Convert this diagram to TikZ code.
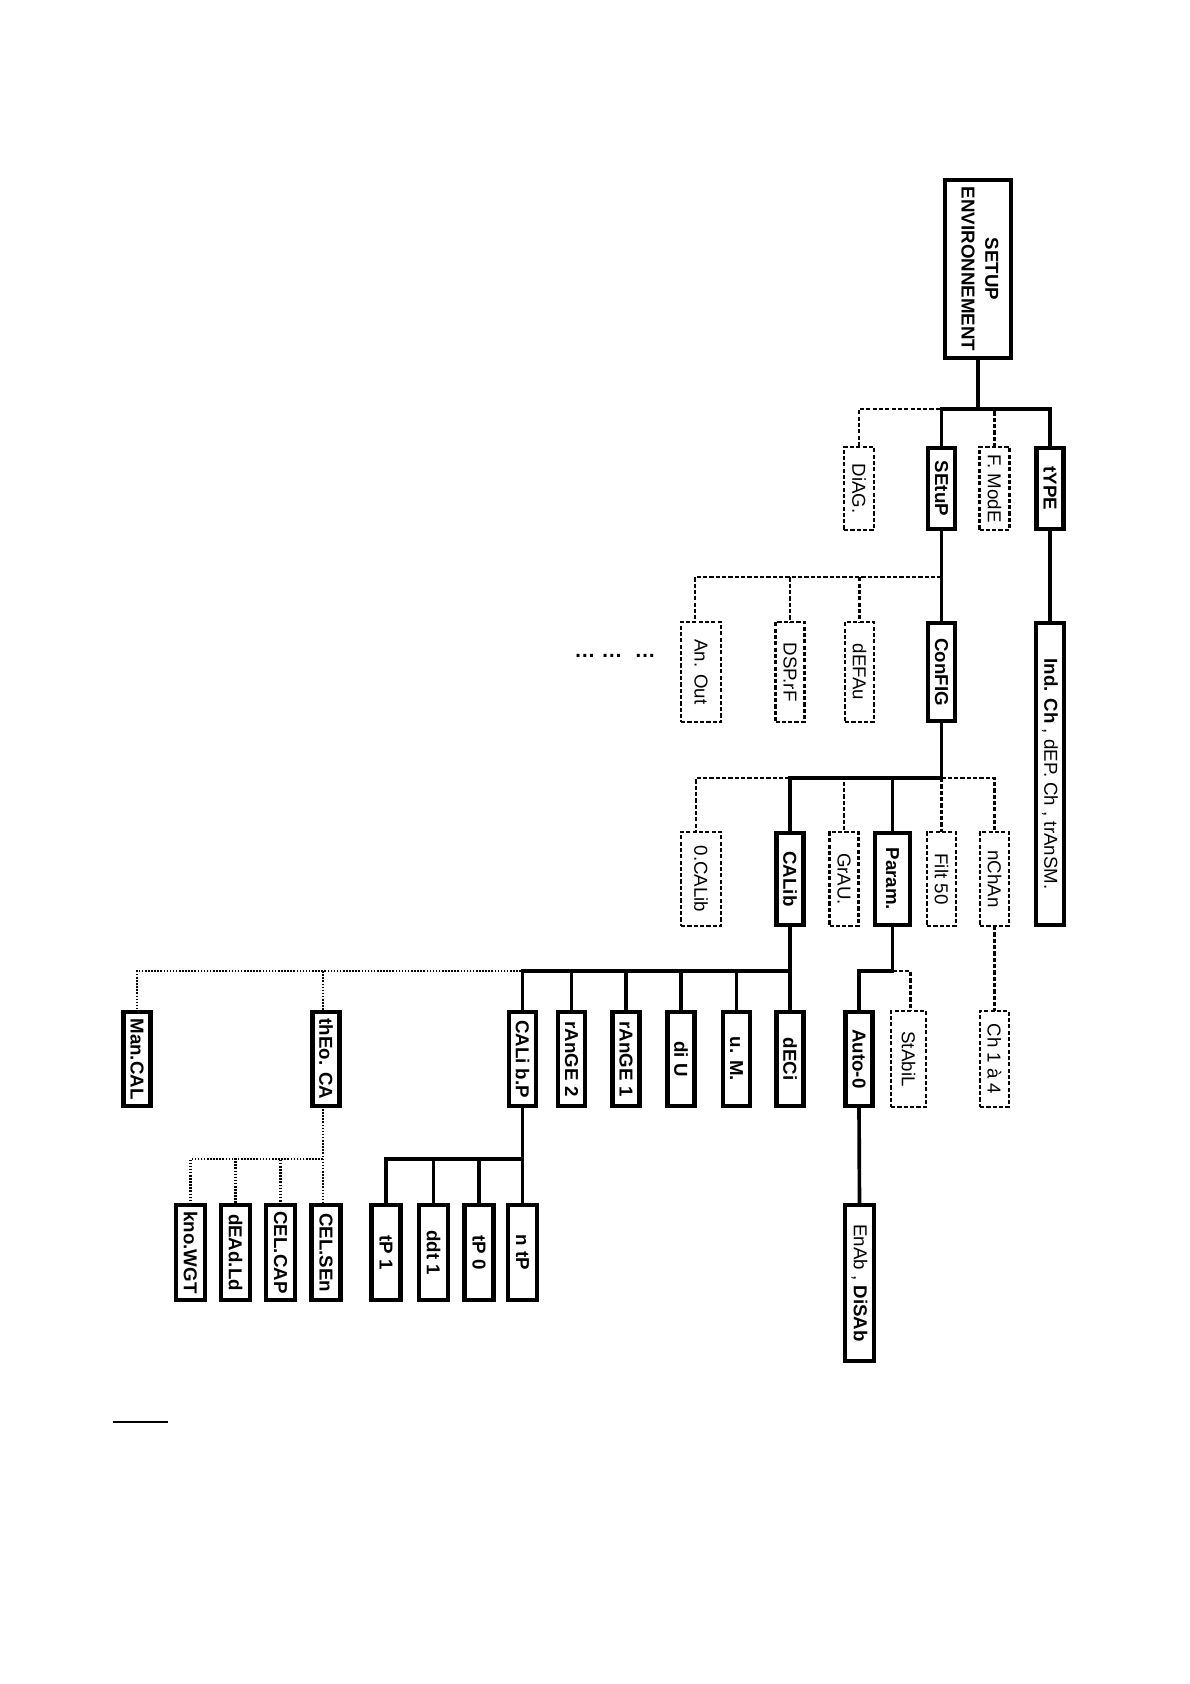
\documentclass[tikz,border=0pt]{standalone}
\usepackage{fontspec}
\setmainfont{Liberation Sans}
\usepackage{graphicx}
\newlength\px
\setlength\px{0.025cm}
\newcommand\rtxt[1]{\rotatebox{-90}{#1}}
\begin{document}
\begin{tikzpicture}[x=0.025cm,y=-0.025cm,
  box/.style={inner sep=0pt, outer sep=0pt, font=\fontsize{13.3}{16}\selectfont},
  sbox/.style={box, draw, line width=3pt, font=\fontsize{13.3}{16}\selectfont\bfseries},
  dbox/.style={box, draw, line width=1.6pt, dash pattern=on 3pt off 1.5pt},
  sline/.style={line width=2.6pt},
  dline/.style={line width=1.6pt, dash pattern=on 3pt off 1.5pt},
  oline/.style={line width=1.5pt, dash pattern=on 1.1pt off 1.1pt},
  l1s/.style={minimum width=27\px, minimum height=81\px},
  l1d/.style={minimum width=30\px, minimum height=83\px},
  l2s/.style={minimum width=27\px, minimum height=98\px},
  l2d/.style={minimum width=29\px, minimum height=100\px},
  l3s/.style={minimum width=27\px, minimum height=92\px},
  l3d/.style={minimum width=29\px, minimum height=94\px},
  l4s/.style={minimum width=27\px, minimum height=94\px},
  l4d/.style={minimum width=29\px, minimum height=96\px},
  l5s/.style={minimum width=29\px, minimum height=95\px},
]
\useasboundingbox (0,0) rectangle (1190,1684);

% bar levels
\coordinate (b1) at (0,409);
\coordinate (b2) at (0,577);
\coordinate (b3) at (0,778);
\coordinate (b4) at (0,971);
\coordinate (b5) at (0,1159);

% root
\node[sbox, minimum width=66\px, minimum height=178\px] (root) at (978,269)
  {\rtxt{\begin{tabular}{@{}c@{}}SETUP\\[1pt]ENVIRONNEMENT\end{tabular}}};

% level 1
\node[dbox, l1d] (diag)  at (859,488.5)   {\rtxt{DiAG.}};
\node[sbox, l1s] (setup) at (941.5,488.5) {\rtxt{SEtuP}};
\node[dbox, l1d] (fmode) at (994.5,488.5) {\rtxt{F. ModE}};
\node[sbox, l1s] (typ)   at (1050,488.5)  {\rtxt{tYPE}};

% level 2
\node[dbox, l2d, minimum width=40\px] (aout) at (701,672) {\rtxt{An. Out}};
\node[dbox, l2d] (dsp)    at (790,672)   {\rtxt{DSP.rF}};
\node[dbox, l2d] (defau)  at (859.5,672) {\rtxt{dEFAu}};
\node[sbox, l2s] (config) at (941.5,672) {\rtxt{ConFIG}};
\node[sbox, minimum width=28\px, minimum height=302\px, font=\fontsize{13.3}{16}\selectfont] (indch) at (1050,774)
  {\rtxt{\textbf{Ind. Ch} , dEP. Ch , trAnSM.}};
\node[box, font=\fontsize{15}{16}\selectfont\bfseries] (dots) at (615,656) {…\hspace{6\px}…\hspace{12\px}…};

% level 3
\node[dbox, l3d, minimum width=40\px] (ocalib) at (701,879) {\rtxt{0.CALib}};
\node[sbox, l3s] (calib) at (790,879)   {\rtxt{CALib}};
\node[dbox, l3d] (grau)  at (844,879)   {\rtxt{GrAU.}};
\node[sbox, l3s, minimum width=35\px] (param) at (892.5,879) {\rtxt{Param.}};
\node[dbox, l3d] (filt)  at (941.5,879) {\rtxt{Filt 50}};
\node[dbox, l3d] (nchan) at (994.5,879) {\rtxt{nChAn}};

% level 4
\node[sbox, l4s] (mancal) at (137,1059)   {\rtxt{Man.CAL}};
\node[sbox, l4s] (theo)   at (326,1059)   {\rtxt{thEo. CA}};
\node[sbox, l4s] (calibp) at (522.5,1059) {\rtxt{CALi b.P}};
\node[sbox, l4s] (range2) at (571.5,1059) {\rtxt{rAnGE 2}};
\node[sbox, l4s] (range1) at (626,1059)   {\rtxt{rAnGE 1}};
\node[sbox, l4s] (diu)    at (681,1059)   {\rtxt{di U}};
\node[sbox, l4s] (um)     at (736.5,1059) {\rtxt{u. M.}};
\node[sbox, l4s] (deci)   at (790,1059)   {\rtxt{dECi}};
\node[sbox, l4s] (auto)   at (859,1059)   {\rtxt{Auto-0}};
\node[dbox, l4d, minimum width=35\px] (stabil) at (908.5,1059) {\rtxt{StAbiL}};
\node[dbox, l4d] (ch)     at (994.5,1059) {\rtxt{Ch 1 à 4}};

% level 5
\node[sbox, l5s] (knowgt) at (190.5,1252.5) {\rtxt{kno.WGT}};
\node[sbox, l5s] (dead)   at (235.5,1252.5) {\rtxt{dEAd.Ld}};
\node[sbox, l5s] (celcap) at (280.5,1252.5) {\rtxt{CEL.CAP}};
\node[sbox, l5s] (celsen) at (326,1252.5)   {\rtxt{CEL.SEn}};
\node[sbox, l5s] (tp1)    at (386,1252.5)   {\rtxt{tP 1}};
\node[sbox, l5s] (ddt)    at (433.5,1252.5) {\rtxt{ddt 1}};
\node[sbox, l5s] (tp0)    at (479,1252.5)   {\rtxt{tP 0}};
\node[sbox, l5s] (ntp)    at (522.5,1252.5) {\rtxt{n tP}};
\node[sbox, minimum width=29\px, minimum height=156\px, font=\fontsize{13.3}{16}\selectfont] (enab) at (859.5,1283)
  {\rtxt{EnAb , \textbf{DiSAb}}};

% dashed / dotted connectors
\draw[dline] (root.south |- b1) -| (fmode.north);
\draw[dline] (root.south |- b1) -| (diag.north);
\draw[dline] (setup.south |- b2) -| (defau.north);
\draw[dline] (setup.south |- b2) -| (dsp.north);
\draw[dline] (setup.south |- b2) -| ([xshift=-6\px]aout.north);
\draw[dline] (config.south |- b3) -| (filt.north);
\draw[dline] (config.south |- b3) -| (nchan.north);
\draw[dline] (config.south |- b3) -| (grau.north);
\draw[dline] (config.south |- b3) -| ([xshift=-5\px]ocalib.north);
\draw[dline] (param.south |- b4) -| ([xshift=2\px]stabil.north);
\draw[dline] (nchan.south) -- (ch.north);
\draw[oline] (calib.south |- b4) -| ([xshift=-3\px]theo.north);
\draw[oline] (calib.south |- b4) -| (mancal.north);
\draw[oline] ([xshift=-3\px]theo.south) -- ([xshift=-3\px]celsen.north);
\draw[oline] ([xshift=-3\px]theo.south |- b5) -| (celcap.north);
\draw[oline] ([xshift=-3\px]theo.south |- b5) -| (dead.north);
\draw[oline] ([xshift=-3\px]theo.south |- b5) -| (knowgt.north);

% solid connectors
\draw[sline] (root.south) -- (root.south |- b1) -| (typ.north);
\draw[sline] (root.south |- b1) -| (setup.north);
\draw[sline] (typ.south) -- (indch.north);
\draw[sline] (setup.south) -- (config.north);
\draw[sline] (config.south) -- (config.south |- b3) -| (param.north);
\draw[sline] (config.south |- b3) -| (calib.north);
\draw[sline] (calib.south) -- (deci.north);
\draw[sline] (calib.south |- b4) -| (um.north);
\draw[sline] (calib.south |- b4) -| (diu.north);
\draw[sline] (calib.south |- b4) -| (range1.north);
\draw[sline] (calib.south |- b4) -| (range2.north);
\draw[sline] (calib.south |- b4) -| (calibp.north);
\draw[sline] (param.south) -- (param.south |- b4) -| (auto.north);
\draw[sline] (auto.south) -- (enab.north);
\draw[sline] (calibp.south) -- (ntp.north);
\draw[sline] (calibp.south |- b5) -| (tp0.north);
\draw[sline] (calibp.south |- b5) -| (ddt.north);
\draw[sline] (calibp.south |- b5) -| (tp1.north);

% short rule at bottom left
\coordinate (r1) at (113,1422);
\coordinate (r2) at (168,1422);
\draw[line width=1.5pt] (r1) -- (r2);
\end{tikzpicture}
\end{document}
